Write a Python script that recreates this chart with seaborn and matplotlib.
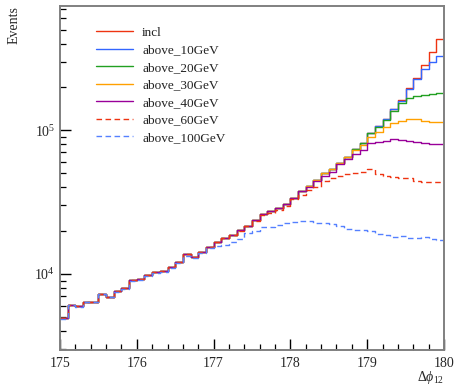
import numpy as np
import pandas as pd
import matplotlib
matplotlib.use("Agg")
import matplotlib.pyplot as plt
from matplotlib.ticker import FixedLocator, MultipleLocator, LogLocator, NullFormatter
import seaborn as sns

# bin edges: 175 .. 180 in steps of 0.1
bin_edges = [round(175.0 + 0.1 * i, 1) for i in range(51)]

incl = [4980, 6100, 5950, 6420, 6420, 7300, 6950, 7590, 8000, 9080,
        9230, 9840, 10270, 10490, 11240, 12120, 13720, 13100, 14250, 15480,
        16800, 17800, 18800, 20100, 21700, 23600, 26200, 27300, 28700, 30600,
        33800, 37700, 40800, 45000, 50000, 53300, 59500, 65300, 73500, 81600,
        95300, 106000, 119900, 139400, 161500, 194800, 230900, 285700, 349700, 428400]

above_10 = [4980, 6100, 5950, 6420, 6420, 7300, 6950, 7590, 8000, 9080,
            9230, 9840, 10270, 10490, 11240, 12120, 13720, 13100, 14250, 15480,
            16800, 17800, 18800, 20100, 21700, 23600, 26200, 27300, 28700, 30600,
            33800, 37700, 40800, 45000, 50000, 53300, 59500, 65300, 73500, 81600,
            95300, 106000, 119900, 139400, 160500, 192000, 226000, 265400, 298000, 330000]

above_20 = [4980, 6100, 5950, 6420, 6420, 7300, 6950, 7590, 8000, 9080,
            9230, 9840, 10270, 10490, 11240, 12120, 13720, 13100, 14250, 15480,
            16800, 17800, 18800, 20100, 21700, 23600, 26200, 27300, 28700, 30600,
            33800, 37700, 40800, 45000, 50000, 53300, 59500, 65300, 73500, 81600,
            95000, 105400, 118500, 136500, 154000, 166000, 173000, 176000, 178500, 180500]

above_30 = [4980, 6100, 5950, 6420, 6420, 7300, 6950, 7590, 8000, 9080,
            9230, 9840, 10270, 10490, 11240, 12120, 13720, 13100, 14250, 15480,
            16800, 17800, 18800, 20100, 21700, 23600, 26200, 27300, 28700, 30600,
            33800, 37700, 40800, 45000, 50000, 53300, 59300, 65000, 72500, 79000,
            90000, 97300, 105400, 112500, 116200, 119200, 119200, 116200, 113600, 113600]

above_40 = [4980, 6100, 5950, 6420, 6420, 7300, 6950, 7590, 8000, 9080,
            9230, 9840, 10270, 10490, 11240, 12120, 13720, 13100, 14250, 15480,
            16800, 17800, 18800, 20100, 21700, 23600, 26200, 27300, 28700, 30600,
            33700, 37500, 40500, 44200, 47800, 51500, 58000, 62500, 68100, 72800,
            80800, 82600, 84300, 86100, 85200, 84300, 82600, 80800, 79500, 79500]

above_60 = [4970, 6090, 5940, 6410, 6410, 7290, 6940, 7580, 7990, 9060,
            9210, 9820, 10250, 10470, 11210, 12090, 13680, 13060, 14200, 15420,
            16700, 17700, 18650, 19900, 21450, 23300, 25700, 26700, 28000, 29800,
            33000, 35600, 38300, 40000, 44000, 46500, 48300, 49300, 50600, 51500,
            53300, 49400, 48200, 47500, 46200, 46200, 44400, 43700, 43600, 43600]

above_100 = [4900, 6050, 5880, 6350, 6350, 7220, 6870, 7500, 7900, 8950,
             9100, 9700, 10100, 10300, 11000, 11900, 13400, 13000, 14000, 15100,
             15600, 16000, 16800, 17500, 19200, 20000, 21200, 21300, 22000, 22600,
             23100, 23500, 23300, 22700, 22500, 22200, 21600, 20400, 20200, 20100,
             19800, 18850, 18700, 18150, 18300, 17700, 17700, 18000, 17600, 17100]

series_names = ["incl", "above_10GeV", "above_20GeV", "above_30GeV",
                "above_40GeV", "above_60GeV", "above_100GeV"]
series_values = [incl, above_10, above_20, above_30, above_40, above_60, above_100]
series_colors = ["#ee3311", "#3366ff", "#22a022", "#ffa000", "#990099",
                 "#ee3311", "#5580ff"]
series_dashed = [False, False, False, False, False, True, True]

centers = [round(e + 0.05, 2) for e in bin_edges[:-1]]

sns.set_theme(style="ticks")
plt.rcParams["font.family"] = ["Liberation Serif", "DejaVu Serif"]
plt.rcParams["mathtext.fontset"] = "custom"
plt.rcParams["mathtext.rm"] = "Liberation Serif"
plt.rcParams["mathtext.it"] = "Liberation Serif:italic"

fig = plt.figure(figsize=(4.56, 3.87), dpi=100)
ax = fig.add_axes([0.1316, 0.0956, 0.8421, 0.889])
ax.set_yscale("log")

for name, vals, col, dashed in zip(series_names, series_values, series_colors, series_dashed):
    df = pd.DataFrame({"x": centers, "w": vals})
    kw = dict(linestyle=(0, (4, 2.5))) if dashed else {}
    sns.histplot(data=df, x="x", weights="w", bins=bin_edges, element="step",
                 fill=False, color=col, linewidth=1.0, ax=ax, label=name, **kw)

ax.set_xlim(175, 180)
ax.set_ylim(2960, 7.3e5)

ax.xaxis.set_major_locator(MultipleLocator(1))
ax.xaxis.set_minor_locator(MultipleLocator(0.2))
ax.yaxis.set_major_locator(FixedLocator([1e4, 1e5]))
ax.yaxis.set_minor_locator(LogLocator(base=10, subs=np.arange(2, 10)))
ax.yaxis.set_minor_formatter(NullFormatter())
ax.set_yticklabels(["$10^{4}$", "$10^{5}$"])
ax.set_xticks(range(175, 181))
ax.set_xticklabels([str(v) for v in range(175, 181)])

ax.tick_params(axis="both", which="major", direction="in", length=8, width=1.0,
               labelsize=10, color="black", top=False, right=False)
ax.tick_params(axis="both", which="minor", direction="in", length=4, width=0.9,
               color="black", top=False, right=False)
ax.tick_params(axis="x", which="major", pad=5)

for s in ax.spines.values():
    s.set_color("#808080")
    s.set_linewidth(1.4)

ax.set_ylabel("Events", loc="top", fontsize=10, labelpad=10)
ax.set_xlabel(r"$\Delta\phi_{12}$", loc="right", fontsize=10, labelpad=-1)

leg = ax.legend(loc="upper left", bbox_to_anchor=(0.08, 0.955), frameon=False,
                fontsize=9.5, handlelength=2.8, handletextpad=0.7,
                labelspacing=0.4, borderaxespad=0)
for t in leg.get_texts():
    t.set_color("#222222")

fig.savefig("out.png", dpi=100)
